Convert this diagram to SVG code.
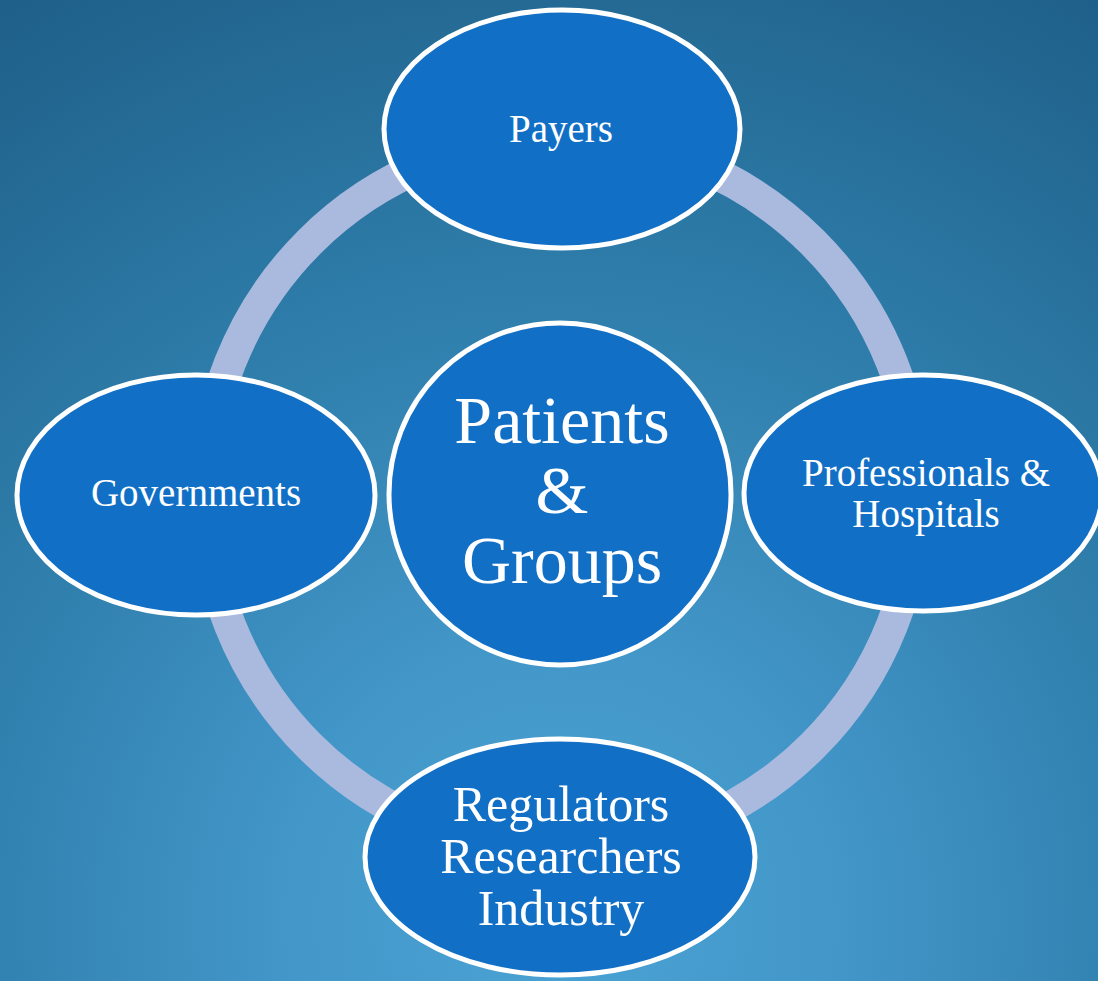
<svg xmlns="http://www.w3.org/2000/svg" width="1098" height="981" viewBox="0 0 1098 981">
  <defs>
    <radialGradient id="bg" gradientUnits="userSpaceOnUse" cx="560" cy="920" r="1080">
      <stop offset="0" stop-color="#4aa3d4"/>
      <stop offset="0.25" stop-color="#4397c9"/>
      <stop offset="0.55" stop-color="#3080ae"/>
      <stop offset="1" stop-color="#1e5f88"/>
    </radialGradient>
    <style>
      .node { fill: #1170c6; stroke: #ffffff; stroke-width: 5; }
      .ring { fill: none; stroke: #aab9de; stroke-width: 32; }
      .lbl { fill: #ffffff; font-family: "Liberation Serif", "DejaVu Serif", serif; text-anchor: middle; }
      .sm { font-size: 39px; }
      .md { font-size: 50px; }
      .lg { font-size: 68px; }
    </style>
  </defs>

  <!-- background -->
  <rect x="0" y="0" width="1098" height="981" fill="url(#bg)"/>

  <!-- connecting ring -->
  <g id="connectors">
    <circle class="ring" cx="561" cy="494" r="356"/>
  </g>

  <g id="payers">
    <ellipse class="node" cx="562" cy="129" rx="178" ry="119"/>
    <text class="lbl sm" x="561" y="142">Payers</text>
  </g>

  <g id="governments">
    <ellipse class="node" cx="196" cy="495" rx="179" ry="120"/>
    <text class="lbl sm" x="196" y="506">Governments</text>
  </g>

  <g id="professionals">
    <ellipse class="node" cx="923" cy="493" rx="179" ry="118"/>
    <text class="lbl sm" x="926" y="486">Professionals &amp;</text>
    <text class="lbl sm" x="926" y="527">Hospitals</text>
  </g>

  <g id="regulators">
    <ellipse class="node" cx="560" cy="857" rx="195" ry="118"/>
    <text class="lbl md" x="561" y="821">Regulators</text>
    <text class="lbl md" x="561" y="873">Researchers</text>
    <text class="lbl md" x="561" y="925">Industry</text>
  </g>

  <g id="patients">
    <circle class="node" cx="560" cy="494" r="171"/>
    <text class="lbl lg" x="562" y="443">Patients</text>
    <text class="lbl lg" x="562" y="513">&amp;</text>
    <text class="lbl lg" x="562" y="583">Groups</text>
  </g>
</svg>
